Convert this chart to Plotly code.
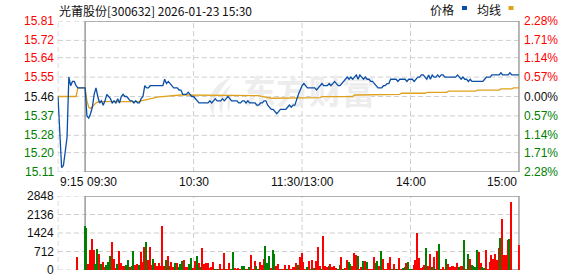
import plotly.graph_objects as go

# ---------------- data ----------------
title_text = "光莆股份[300632] 2026-01-23 15:30"
legend_names = ["价格", "均线"]
prev_close = 15.46

price_ticks = [15.81, 15.72, 15.64, 15.55, 15.46, 15.37, 15.28, 15.20, 15.11]
price_tick_labels = ["15.81", "15.72", "15.64", "15.55", "15.46", "15.37", "15.28", "15.20", "15.11"]
pct_tick_labels = ["2.28%", "1.71%", "1.14%", "0.57%", "0.00%", "0.57%", "1.14%", "1.71%", "2.28%"]
vol_ticks = [2848, 2136, 1424, 712, 0]
vol_tick_labels = ["2848", "2136", "1424", "712", "0"]
time_tick_minutes = [0, 15, 75, 135, 195, 255]
time_tick_labels = ["9:15", "09:30", "10:30", "11:30/13:00", "14:00", "15:00"]
grid_minutes = [0, 75, 135, 195]

# call auction 9:15 - 9:29
pre_price = [15.46, 15.30, 15.13, 15.14, 15.20, 15.27, 15.55, 15.51, 15.53, 15.53,
             15.51, 15.50, 15.50, 15.50, 15.50]
pre_avg = [15.46, 15.46, 15.46, 15.46, 15.46, 15.46, 15.46, 15.46, 15.46, 15.46,
           15.46, 15.50, 15.50, 15.50, 15.50]
pre_volume = [0, 0, 0, 0, 0, 0, 0, 0, 0, 0, 0, 513, 0, 0, 0]
pre_up = [1, 1, 1, 1, 1, 1, 1, 1, 1, 1, 1, 1, 1, 1, 1]

# trading minutes 9:30 ... 11:30 / 13:01 ... 15:00
price = [
    15.50, 15.37, 15.36, 15.38, 15.41, 15.47, 15.50, 15.46, 15.43, 15.44,
    15.42, 15.44, 15.47, 15.46, 15.45, 15.43, 15.44, 15.43, 15.45, 15.43,
    15.46, 15.47, 15.46, 15.46, 15.45, 15.44, 15.44, 15.43, 15.44, 15.43,
    15.43, 15.45, 15.46, 15.51, 15.50, 15.50, 15.51, 15.51, 15.51, 15.51,
    15.51, 15.51, 15.51, 15.51, 15.54, 15.52, 15.53, 15.52, 15.51, 15.50,
    15.50, 15.50, 15.49, 15.49, 15.47, 15.47, 15.47, 15.48, 15.47, 15.46,
    15.46, 15.45, 15.44, 15.43, 15.43, 15.43, 15.43, 15.43, 15.43, 15.44,
    15.43, 15.44, 15.45, 15.44, 15.44, 15.44, 15.45, 15.44, 15.45, 15.46,
    15.45, 15.44, 15.44, 15.44, 15.44, 15.43, 15.43, 15.44, 15.44, 15.43,
    15.44, 15.43, 15.43, 15.43, 15.43, 15.42, 15.42, 15.43, 15.43, 15.44,
    15.44, 15.42, 15.41, 15.40, 15.40, 15.39, 15.38, 15.39, 15.40, 15.40,
    15.40, 15.40, 15.41, 15.42, 15.41, 15.42, 15.42, 15.45, 15.47, 15.49,
    15.51, 15.52, 15.51, 15.50, 15.50, 15.50, 15.50, 15.50, 15.49, 15.50,
    15.51, 15.52, 15.51, 15.51, 15.51, 15.52, 15.51, 15.52, 15.53, 15.52,
    15.51, 15.51, 15.52, 15.53, 15.54, 15.55, 15.54, 15.55, 15.54, 15.55,
    15.56, 15.54, 15.56, 15.55, 15.54, 15.55, 15.54, 15.54, 15.53, 15.53,
    15.52, 15.51, 15.50, 15.50, 15.50, 15.51, 15.51, 15.52, 15.52, 15.54,
    15.54, 15.54, 15.54, 15.53, 15.54, 15.54, 15.54, 15.54, 15.53, 15.54,
    15.54, 15.54, 15.53, 15.54, 15.55, 15.55, 15.56, 15.56, 15.55, 15.54,
    15.56, 15.54, 15.56, 15.55, 15.55, 15.56, 15.55, 15.56, 15.56, 15.55,
    15.55, 15.55, 15.55, 15.55, 15.55, 15.55, 15.56, 15.55, 15.54, 15.55,
    15.54, 15.54, 15.53, 15.54, 15.53, 15.53, 15.53, 15.53, 15.53, 15.53,
    15.53, 15.54, 15.55, 15.55, 15.55, 15.56, 15.56, 15.56, 15.56, 15.56,
    15.57, 15.56, 15.56, 15.56, 15.56, 15.57, 15.56, 15.56, 15.56, 15.56,
    15.56,
]

avg_price = [
    15.500, 15.440, 15.410, 15.405, 15.415, 15.425, 15.430, 15.435, 15.436, 15.436,
    15.436, 15.436, 15.436, 15.436, 15.436, 15.436, 15.436, 15.436, 15.436, 15.436,
    15.436, 15.436, 15.436, 15.436, 15.436, 15.436, 15.436, 15.436, 15.436, 15.436,
    15.436, 15.440, 15.442, 15.445, 15.448, 15.450, 15.452, 15.453, 15.454, 15.455,
    15.457, 15.458, 15.459, 15.460, 15.461, 15.462, 15.463, 15.464, 15.465, 15.465,
    15.466, 15.466, 15.467, 15.467, 15.467, 15.467, 15.467, 15.467, 15.467, 15.467,
    15.467, 15.467, 15.467, 15.467, 15.467, 15.467, 15.467, 15.467, 15.467, 15.467,
    15.467, 15.467, 15.467, 15.467, 15.467, 15.467, 15.467, 15.467, 15.467, 15.467,
    15.467, 15.467, 15.467, 15.467, 15.467, 15.467, 15.467, 15.467, 15.467, 15.467,
    15.467, 15.467, 15.467, 15.467, 15.467, 15.467, 15.464, 15.462, 15.460, 15.458,
    15.456, 15.454, 15.453, 15.452, 15.452, 15.452, 15.452, 15.452, 15.452, 15.452,
    15.452, 15.452, 15.452, 15.452, 15.452, 15.452, 15.452, 15.452, 15.452, 15.452,
    15.455, 15.455, 15.455, 15.455, 15.455, 15.455, 15.455, 15.455, 15.455, 15.455,
    15.455, 15.459, 15.459, 15.459, 15.459, 15.459, 15.459, 15.459, 15.459, 15.459,
    15.459, 15.459, 15.459, 15.459, 15.459, 15.459, 15.459, 15.459, 15.459, 15.467,
    15.467, 15.467, 15.467, 15.467, 15.467, 15.467, 15.467, 15.467, 15.467, 15.467,
    15.470, 15.470, 15.470, 15.470, 15.470, 15.470, 15.470, 15.470, 15.470, 15.470,
    15.470, 15.470, 15.470, 15.470, 15.470, 15.475, 15.475, 15.475, 15.475, 15.475,
    15.475, 15.475, 15.475, 15.475, 15.475, 15.475, 15.475, 15.475, 15.475, 15.479,
    15.479, 15.479, 15.479, 15.479, 15.479, 15.479, 15.479, 15.479, 15.479, 15.479,
    15.479, 15.485, 15.485, 15.485, 15.485, 15.485, 15.485, 15.485, 15.485, 15.485,
    15.485, 15.485, 15.485, 15.485, 15.485, 15.485, 15.485, 15.490, 15.490, 15.490,
    15.490, 15.490, 15.490, 15.490, 15.490, 15.490, 15.490, 15.490, 15.490, 15.490,
    15.495, 15.495, 15.495, 15.495, 15.495, 15.495, 15.495, 15.500, 15.500, 15.500,
    15.500,
]

volume = [
    1694, 1604, 231, 770, 1180, 770, 231, 795, 616, 231,
    308, 103, 192, 321, 539, 1090, 423, 51, 231, 731,
    282, 154, 154, 205, 385, 128, 154, 731, 192, 231,
    180, 706, 321, 872, 1078, 385, 872, 192, 436, 282,
    154, 282, 154, 1694, 154, 385, 539, 154, 321, 103,
    282, 257, 128, 231, 359, 385, 103, 103, 231, 449,
    64, 359, 539,
    282, 128, 847, 231, 282, 282, 77, 128, 308,
    38, 38, 26, 231, 38, 654, 38, 38, 282, 38,
    693, 77, 38, 77, 38, 154, 154, 38, 38, 103,
    577, 38, 359, 154, 38, 308, 192, 423, 924, 269,
    539, 77, 770, 616, 154, 231, 38, 38, 38, 192,
    38, 192, 38, 103, 103, 269, 192, 500, 654, 308,
    38,
    115, 346, 38, 385, 77, 359, 885, 154, 38, 1309,
    154, 115, 154, 231, 103, 154, 77, 38, 192, 500,
    38,
    77, 385, 308, 231, 154, 654, 577, 539, 38, 115,
    346, 346, 308, 38, 38,
    38,
    500, 269, 346, 154, 731,
    423, 38, 38, 269,
    500, 38, 231, 38, 38, 462, 38, 77, 115, 269,
    308, 38, 38, 192, 385, 1437, 462, 77, 115, 192,
    847, 154, 616, 115, 500, 38, 731, 1001, 38, 115,
    38, 423, 231, 115, 154, 154, 115, 269, 115, 154,
    154, 1155, 38, 616, 423, 192, 154, 115, 770, 693,
    269, 115, 77, 770, 38, 308, 577, 423, 616, 385,
    847, 1232, 1963, 577, 577, 1155, 1193, 2617,
    0, 0, 0, 962,
]

volume_up = [
    0, 0, 1, 1, 1, 1, 0, 0, 1, 0,
    1, 1, 0, 0, 0, 1, 1, 1, 0, 1,
    1, 1, 1, 0, 0, 1, 0, 0, 1, 1,
    0, 1, 1, 1, 0, 1, 1, 1, 0, 1,
    1, 1, 1, 1, 1, 0, 1, 0, 1, 1,
    0, 1, 0, 0, 0, 1, 1, 1, 0, 0,
    1, 1, 0,
    1, 0, 1, 1, 1, 1, 1, 1, 1,
    0, 1, 0, 1, 1, 1, 0, 1, 1, 0,
    0, 1, 1, 1, 1, 0, 0, 0, 1, 0,
    1, 1, 1, 0, 0, 1, 1, 1, 0, 0,
    0, 1, 0, 0, 1, 1, 1, 0, 1, 1,
    0, 1, 1, 1, 1, 1, 0, 1, 1, 1,
    1,
    0, 1, 0, 1, 0, 1, 1, 1, 0, 1,
    1, 1, 0, 1, 1, 1, 1, 0, 0, 1,
    0,
    1, 1, 0, 0, 1, 1, 1, 0, 1, 1,
    0, 1, 0, 1, 1,
    1,
    1, 0, 0, 1, 0,
    1, 1, 1, 1,
    1, 0, 1, 1, 0, 1, 1, 0, 0, 1,
    0, 0, 0, 1, 1, 1, 1, 1, 1, 1,
    0, 1, 1, 0, 1, 0, 1, 0, 1, 1,
    1, 0, 1, 1, 1, 1, 1, 1, 0, 1,
    1, 0, 1, 0, 1, 0, 0, 0, 0, 1,
    1, 0, 0, 1, 1, 1, 1, 1, 1, 1,
    1, 0, 1, 1, 1, 1, 0, 1,
    1, 1, 1, 1,
]

assert len(price) == len(avg_price) == len(volume) == len(volume_up) == 241

# ---------------- layout constants ----------------
W, H = 578, 276
X0_PX, X1_PX = 58, 519          # 9:15 and 15:00
PRICE_TOP, PRICE_BOT = 21, 172
VOL_TOP, VOL_BOT = 196, 270
T_END = time_tick_minutes[-1]
K = (X1_PX - X0_PX) / T_END
XR = [-0.3, T_END + 0.5]
DOM_X = [(X0_PX + XR[0] * K) / W, (X0_PX + XR[1] * K) / W]
T_OPEN = len(pre_price)

RED, GREEN, DARK = "#ff0000", "#008000", "#101010"
BLUE, ORANGE = "#0a4ea6", "#e0a21c"
GRID, BORDER = "#cfcfcf", "#9a9a9a"
WM = "#ededed"
FONT = "Liberation Sans, Arial, Noto Sans CJK SC, sans-serif"
CJK = "Noto Sans CJK SC, Liberation Sans, sans-serif"


def py(y):
    return 1 - y / H


def px(x):
    return x / W


t_all = list(range(len(pre_price) + len(price)))
p_all = pre_price + price
a_all = pre_avg + avg_price
v_all = pre_volume + volume
up_all = pre_up + volume_up
bar_colors = [RED if u else GREEN for u in up_all]

fig = go.Figure()

# watermark (drawn first, below lines)
p_lo, p_hi = price_ticks[-1], price_ticks[0]
wm_t = (309 - X0_PX) / K
wm_p = p_hi - (96 - PRICE_TOP) * (p_hi - p_lo) / (PRICE_BOT - PRICE_TOP)
fig.add_trace(go.Scatter(
    x=[wm_t], y=[wm_p], mode="text", text=["东方财富"],
    textfont=dict(size=33, color=WM, family=CJK, weight="bold"),
    hoverinfo="skip", xaxis="x", yaxis="y"))

fig.add_trace(go.Bar(
    x=t_all, y=v_all, marker=dict(color=bar_colors, line=dict(width=0)),
    width=0.6, xaxis="x2", yaxis="y2", hoverinfo="skip"))

fig.add_trace(go.Scatter(
    x=t_all, y=a_all, mode="lines", line=dict(color=ORANGE, width=1.3),
    xaxis="x", yaxis="y", hoverinfo="skip"))
fig.add_trace(go.Scatter(
    x=t_all, y=p_all, mode="lines", line=dict(color=BLUE, width=1.3),
    xaxis="x", yaxis="y", hoverinfo="skip"))

shapes = []
dash = "5px,3px"
# price grid
for v in price_ticks:
    shapes.append(dict(type="line", xref="x", yref="y", x0=0, x1=T_END, y0=v, y1=v,
                       line=dict(color=GRID, width=1, dash=dash), layer="below"))
for t in grid_minutes:
    shapes.append(dict(type="line", xref="x", yref="y", x0=t, x1=t, y0=p_lo, y1=p_hi,
                       line=dict(color=GRID, width=1, dash=dash), layer="below"))
    shapes.append(dict(type="line", xref="x2", yref="y2", x0=t, x1=t, y0=0, y1=vol_ticks[0],
                       line=dict(color=GRID, width=1, dash=dash), layer="below"))
for v in vol_ticks:
    shapes.append(dict(type="line", xref="x2", yref="y2", x0=0, x1=T_END, y0=v, y1=v,
                       line=dict(color=GRID, width=1, dash=dash), layer="below"))

# watermark logo (feather-like swoosh), pixel geometry converted to paper
def pth(points):
    s = ""
    for cmd, pts in points:
        s += cmd + " " + " ".join(f"{px(x):.5f},{py(y):.5f}" for x, y in pts) + " "
    return s + "Z"

logo1 = pth([("M", [(230, 78)]), ("C", [(212, 84), (204, 102), (214, 116)]),
             ("C", [(212, 104), (218, 92), (230, 78)])])
logo2 = pth([("M", [(232, 84)]), ("C", [(220, 92), (216, 104), (222, 114)]),
             ("C", [(222, 104), (225, 95), (232, 84)])])
logo3 = pth([("M", [(233, 92)]), ("C", [(227, 98), (226, 106), (229, 112)]),
             ("C", [(230, 106), (230, 99), (233, 92)])])
for pth_s in (logo1, logo2, logo3):
    shapes.append(dict(type="path", xref="paper", yref="paper", path=pth_s,
                       fillcolor=WM, line=dict(width=0), layer="below"))

# borders
shapes.append(dict(type="rect", xref="x", yref="y", x0=T_OPEN, x1=T_END, y0=p_lo, y1=p_hi,
                   line=dict(color=BORDER, width=1.5), fillcolor="rgba(0,0,0,0)", layer="below"))
shapes.append(dict(type="rect", xref="x2", yref="y2", x0=T_OPEN, x1=T_END, y0=0, y1=vol_ticks[0],
                   line=dict(color=BORDER, width=1.5), fillcolor="rgba(0,0,0,0)", layer="below"))
# legend swatches
shapes.append(dict(type="rect", xref="paper", yref="paper", x0=px(462), x1=px(467), y0=py(10), y1=py(6),
                   fillcolor=BLUE, line=dict(width=0)))
shapes.append(dict(type="rect", xref="paper", yref="paper", x0=px(508.5), x1=px(513.5), y0=py(10), y1=py(6),
                   fillcolor=ORANGE, line=dict(width=0)))

ann = []
ann.append(dict(text=title_text, xref="paper", yref="paper", x=px(57), y=py(10),
                xanchor="left", yanchor="middle", showarrow=False,
                font=dict(family=CJK, size=12, color=DARK)))
ann.append(dict(text=legend_names[0], xref="paper", yref="paper", x=px(442), y=py(9),
                xanchor="center", yanchor="middle", showarrow=False,
                font=dict(family=CJK, size=12, color=DARK)))
ann.append(dict(text=legend_names[1], xref="paper", yref="paper", x=px(489), y=py(9),
                xanchor="center", yanchor="middle", showarrow=False,
                font=dict(family=CJK, size=12, color=DARK)))

for v, lab, pl in zip(price_ticks, price_tick_labels, pct_tick_labels):
    col = RED if v > prev_close + 1e-9 else (GREEN if v < prev_close - 1e-9 else DARK)
    ann.append(dict(text=lab, xref="paper", yref="y", x=px(56), y=v, xanchor="right",
                    yanchor="middle", showarrow=False, font=dict(family=FONT, size=12, color=col)))
    ann.append(dict(text=pl, xref="paper", yref="y", x=px(522), y=v, xanchor="left",
                    yanchor="middle", showarrow=False, font=dict(family=FONT, size=12, color=col)))

for v, lab in zip(vol_ticks, vol_tick_labels):
    ann.append(dict(text=lab, xref="paper", yref="y2", x=px(56), y=v, xanchor="right",
                    yanchor="middle", showarrow=False, font=dict(family=FONT, size=12, color=DARK)))

anchors = ["left", "left", "center", "center", "center", "right"]
for t, lab, a in zip(time_tick_minutes, time_tick_labels, anchors):
    ann.append(dict(text=lab, xref="x", yref="paper", x=t, y=py(182), xanchor=a,
                    yanchor="middle", showarrow=False, font=dict(family=FONT, size=12, color=DARK)))

fig.update_layout(
    width=W, height=H, margin=dict(l=0, r=0, t=0, b=0, pad=0),
    paper_bgcolor="white", plot_bgcolor="rgba(0,0,0,0)",
    showlegend=False, bargap=0,
    xaxis=dict(domain=DOM_X, range=XR, visible=False, fixedrange=True, anchor="y"),
    xaxis2=dict(domain=DOM_X, range=XR, visible=False, fixedrange=True, anchor="y2"),
    yaxis=dict(domain=[py(PRICE_BOT), py(PRICE_TOP)], range=[p_lo, p_hi], visible=False,
               fixedrange=True, anchor="x"),
    yaxis2=dict(domain=[py(VOL_BOT), py(VOL_TOP)], range=[0, vol_ticks[0]], visible=False,
                fixedrange=True, anchor="x2"),
    shapes=shapes, annotations=ann,
)

fig.write_html("out.html", config={"displayModeBar": False})
